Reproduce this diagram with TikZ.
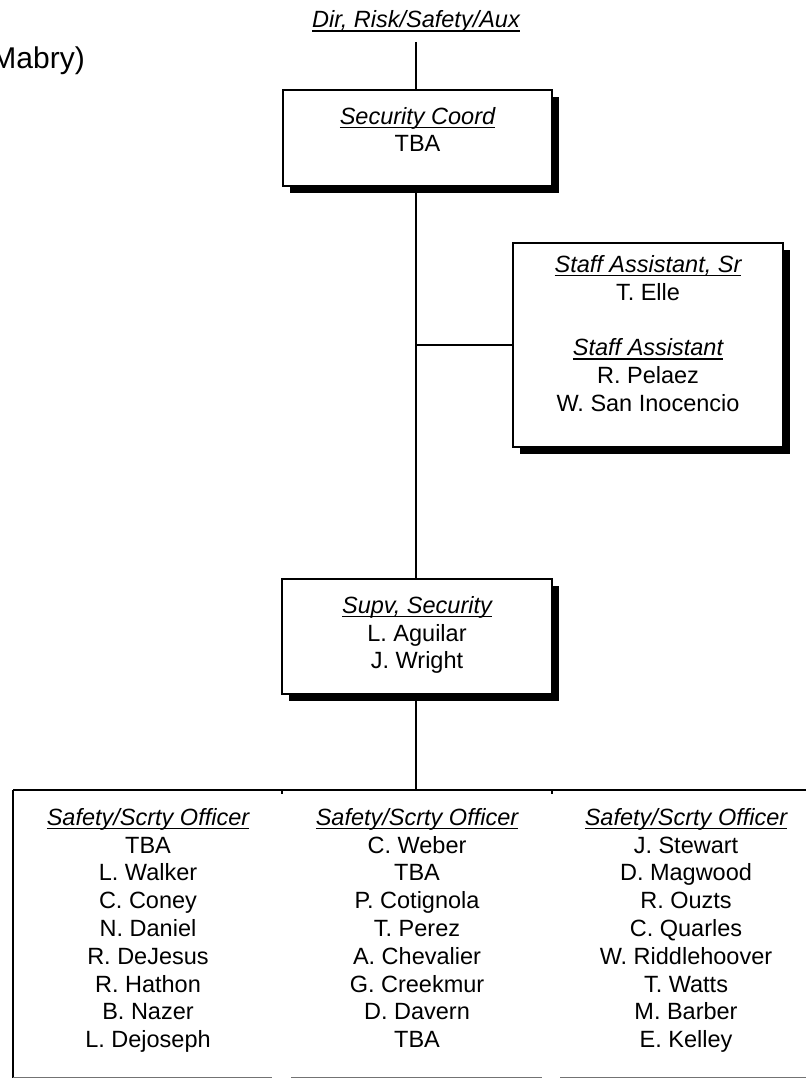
\documentclass[tikz,border=0pt]{standalone}
\usepackage{fontspec}
\setmainfont{Liberation Sans}
\usetikzlibrary{shadows,backgrounds}
\newcommand{\myul}[1]{\setbox0\hbox{#1}\rlap{\vrule height -2.4pt depth 4.1pt width \wd0}\box0}
\newcommand{\fl}{\rule{0pt}{20pt}}
\tikzset{
  box/.style={draw=black, line width=1.1pt, fill=white, inner sep=0pt, outer sep=0pt, anchor=north west,
    drop shadow={shadow xshift=7pt, shadow yshift=-7pt, opacity=1, fill=black}},
  txt/.style={font=\fontsize{23.5}{27.8}\selectfont, align=center, inner sep=0pt, anchor=north},
  conn/.style={line width=1.2pt, draw=black},
  edge/.style={line width=1.0pt, draw=black!55},
}
\begin{document}
\begin{tikzpicture}[x=1pt,y=1pt]
\useasboundingbox (0,0) rectangle (806,-1078);
\clip (0,0) rectangle (806,-1078);

% header texts
\node[font=\fontsize{23.5}{27.8}\selectfont, anchor=base, inner sep=0pt] (dir) at (416,-28) {\myul{\itshape Dir, Risk/Safety/Aux}};
\node[font=\fontsize{30}{36}\selectfont, anchor=base east, inner sep=0pt] (mab) at (85,-69) {Mabry)};

\coordinate (top) at (416,-42);

% boxes
\node[box, minimum width=269pt, minimum height=96pt] (sc) at (283,-90) {};
\node[box, minimum width=270pt, minimum height=204pt] (st) at (513,-243) {};
\node[box, minimum width=270pt, minimum height=115pt] (sv) at (282,-579) {};

% box texts
\node[txt] (sct) at (417.5,-104) {\fl\myul{\itshape Security Coord}\\TBA};
\node[txt] (stt) at (648,-252) {\fl\myul{\itshape Staff Assistant, Sr}\\T. Elle\\\mbox{}\\\myul{\itshape Staff Assistant}\\R. Pelaez\\W. San Inocencio};
\node[txt] (svt) at (417,-593) {\fl\myul{\itshape Supv, Security}\\L. Aguilar\\J. Wright};

% bottom row
\coordinate (rowtop) at (416,-790);
\coordinate (rowL) at (13,-790);
\coordinate (rowR) at (806,-790);
\coordinate (rowLB) at (13,-1078);
\coordinate (t1) at (282,-790);
\coordinate (t2) at (552,-790);

\node[txt] (c1) at (148,-805) {\fl\myul{\itshape Safety/Scrty Officer}\\TBA\\L. Walker\\C. Coney\\N. Daniel\\R. DeJesus\\R. Hathon\\B. Nazer\\L. Dejoseph};
\node[txt] (c2) at (417,-805) {\fl\myul{\itshape Safety/Scrty Officer}\\C. Weber\\TBA\\P. Cotignola\\T. Perez\\A. Chevalier\\G. Creekmur\\D. Davern\\TBA};
\node[txt] (c3) at (686,-805) {\fl\myul{\itshape Safety/Scrty Officer}\\J. Stewart\\D. Magwood\\R. Ouzts\\C. Quarles\\W. Riddlehoover\\T. Watts\\M. Barber\\E. Kelley};

\draw[conn] (rowL) -- (rowR);
\draw[conn] (rowL) -- (rowLB);
\draw[conn] (t1) -- ++(0,-4);
\draw[conn] (t2) -- ++(0,-4);
\draw[edge] (13,-1077) -- (272,-1077);
\draw[edge] (291,-1077) -- (542,-1077);
\draw[edge] (560,-1077) -- (806,-1077);

\begin{pgfonlayer}{background}
\draw[conn] (top) -- (top |- sc.north);
\draw[conn] (top |- sc.south) -- (top |- sv.north);
\draw[conn] (top |- st.west) -- (st.west);
\draw[conn] (top |- sv.south) -- (rowtop);
\end{pgfonlayer}
\end{tikzpicture}
\end{document}
